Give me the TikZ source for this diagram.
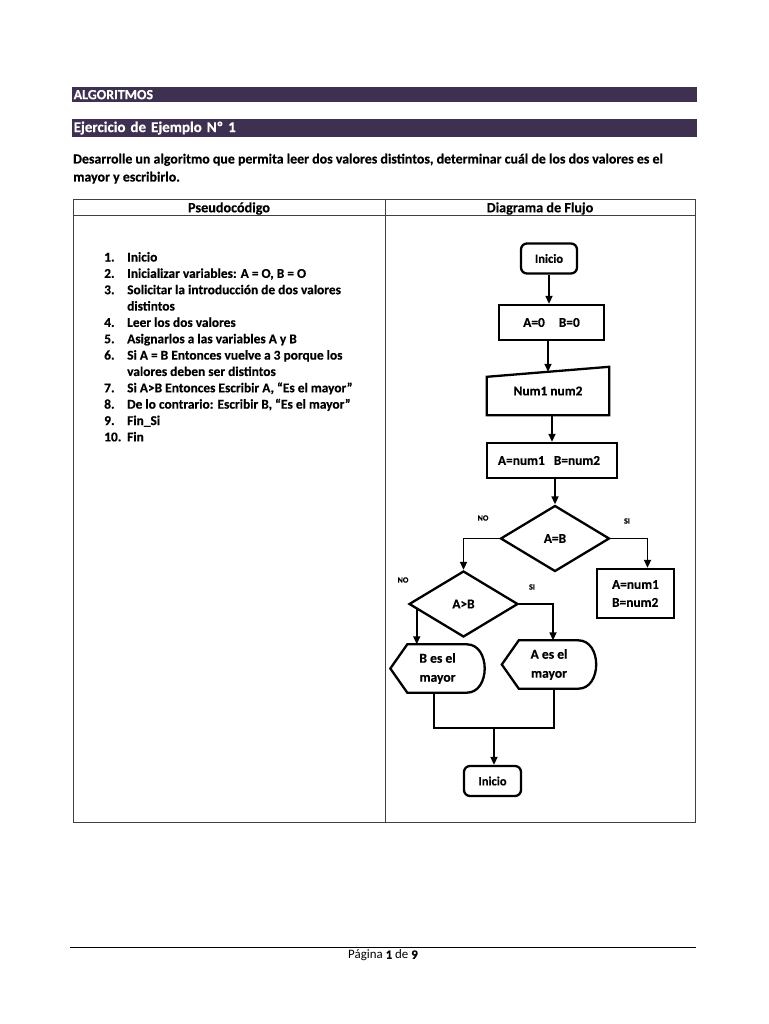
\documentclass[tikz,border=0pt]{standalone}
\usepackage{fontspec}
\setmainfont{Carlito}[BoldFeatures={FakeBold=0.35}]
\usetikzlibrary{arrows.meta,calc,shapes.geometric}
\definecolor{barc}{HTML}{3D3050}
\definecolor{tblc}{HTML}{404040}
\begin{document}
\begin{tikzpicture}[x=1pt,y=-1pt,
  every node/.style={inner sep=0pt,font=\bfseries},
  barnode/.style={fill=barc,text=white,anchor=north west,inner xsep=2pt,minimum height=#1,text width=621pt,align=left},
  para/.style={anchor=base west,font=\fontsize{13.9}{16}\selectfont\bfseries},
  hdr/.style={font=\fontsize{14.2}{16}\selectfont\bfseries},
  num/.style={anchor=base west,font=\fontsize{13.4}{15}\selectfont\bfseries},
  item/.style={anchor=base west,font=\fontsize{13.4}{15}\selectfont\bfseries},
  fc/.style={line width=2.3pt},
  term/.style={fc,draw,rounded corners=6pt,minimum width=56pt,minimum height=30pt,font=\fontsize{12.5}{14}\selectfont\bfseries},
  proc/.style={fc,draw,font=\fontsize{13.4}{15}\selectfont\bfseries},
  dec/.style={fc,draw,diamond,minimum width=109pt,minimum height=66pt,font=\fontsize{13.4}{15}\selectfont\bfseries},
  ghost/.style={draw=none,font=\fontsize{13.4}{15}\selectfont\bfseries},
  lbl/.style={font=\fontsize{8}{9}\selectfont\bfseries},
  arr/.style={line width=1.6pt,-{Triangle[length=8pt,width=7pt]}},
  lin/.style={line width=1.8pt}
]
\useasboundingbox (0,0) rectangle (768,1024);
\fill[white] (0,0) rectangle (768,1024);

% header bars
\node[barnode=15.5pt,font=\fontsize{14}{15}\selectfont\bfseries] (bar1) at (71.5,86.7) {ALGORITMOS};
\node[barnode=17.7pt,font=\fontsize{15}{17}\selectfont\bfseries] (bar2) at (71.5,119) {Ejercicio de Ejemplo Nº 1};

% paragraph
\node[para] (p1l) at (73,163.5) {Desarrolle un algoritmo que permita leer dos valores distintos, determinar cuál de los dos valores es el};
\node[para] (p2l) at (73,181.5) {mayor y escribirlo.};

% table
\draw[tblc,line width=1pt] (73,200) rectangle (695,822);
\draw[tblc,line width=1pt] (73,216) -- (695,216);
\draw[tblc,line width=1pt] (385,200) -- (385,822);
\node[hdr] (h1) at (229,208.5) {Pseudocódigo};
\node[hdr] (h2) at (540,208.5) {Diagrama de Flujo};

% pseudocode list
\foreach \n/\t/\l in {1./Inicio/0,
  2./{Inicializar variables: A = O, B = O}/1,
  3./{Solicitar la introducción de dos valores}/2,
  /distintos/3,
  4./Leer los dos valores/4,
  5./Asignarlos a las variables A y B/5,
  6./Si A = B Entonces vuelve a 3 porque los/6,
  /valores deben ser distintos/7,
  7./{Si A>B Entonces Escribir A, “Es el mayor”}/8,
  8./{De lo contrario: Escribir B, “Es el mayor”}/9,
  9./Fin\_Si/10,
  10./Fin/11}{
  \node[num] (n\l) at (104,{261.5+16.35*\l}) {\n};
  \node[item] (i\l) at (127,{261.5+16.35*\l}) {\t};
}

% flowchart
\node[term] (t1) at (549,258.5) {Inicio};
\node[proc,minimum width=105pt,minimum height=35pt] (b1) at (551.5,322.5) {A=0\hspace{14pt}B=0};
\node[ghost,minimum width=122pt,minimum height=48pt] (io) at (548,391) {Num1 num2};
\draw[fc] (io.south west) -- ($(io.north west)+(0,10)$) -- (io.north east) -- (io.south east) -- cycle;
\node[proc,minimum width=130pt,minimum height=35pt] (b2) at (552,460.5) {\hspace{-6pt}A=num1\hspace{9pt}B=num2};
\node[dec] (d1) at (555,538.5) {A=B};
\node[proc,minimum width=77pt,minimum height=49pt,align=left,font=\fontsize{13.4}{18}\selectfont\bfseries] (b3) at (635.5,593.5) {A=num1\\B=num2};
\node[dec] (d2) at (463.5,604) {A>B};
\node[ghost,minimum width=94pt,minimum height=48pt,align=center,font=\fontsize{13.6}{19}\selectfont\bfseries] (dB) at (437.5,668.5) {B es el\\mayor};
\node[ghost,minimum width=94pt,minimum height=48pt,align=center,font=\fontsize{13.6}{19}\selectfont\bfseries] (dA) at (549,664.5) {A es el\\mayor};
\foreach \s in {dB,dA}{
  \draw[fc] (\s.west) -- ($(\s.north west)+(17,0)$) -- ($(\s.north east)+(-18,0)$)
    .. controls ($(\s.north east)+(6,0)$) and ($(\s.south east)+(6,0)$) .. ($(\s.south east)+(-18,0)$)
    -- ($(\s.south west)+(17,0)$) -- cycle;
}
\node[term,minimum width=57pt] (t2) at (492.5,781) {Inicio};

% labels
\node[lbl] (no1) at (483,518) {NO};
\node[lbl] (si1) at (627,521) {SI};
\node[lbl] (no2) at (403,580) {NO};
\node[lbl] (si2) at (532,587) {SI};

% connectors
\draw[arr] (t1.south) -- (t1.south |- b1.north);
\coordinate (iotop) at ($(io.north)+(0,5)$);
\draw[arr] (b1.south -| iotop) -- (iotop);
\draw[arr] (io.south -| b2.north) -- (b2.north);
\draw[arr] (b2.south -| d1.north) -- (d1.north);
\coordinate (p3in) at ($(b3.north)+(12,0)$);
\draw[arr] (d1.east) -| (p3in);
\draw[arr] (d1.west) -| (d2.north);
\coordinate (dAin) at ($(dA.north)+(4,0)$);
\draw[arr] (d2.east) -| (dAin);
\coordinate (d2l) at ($(d2.west)!0.16!(d2.south)$);
\draw[arr] (d2l) -- (d2l |- dB.north);
\coordinate (mB) at (434,728);
\coordinate (mA) at (554,728);
\coordinate (mC) at (494,728);
\draw[lin] (dB.south -| mB) -- (mB) -- (mA) -- (dA.south -| mA);
\draw[arr] (mC) -- (mC |- t2.north);

% footer
\draw[black,line width=1pt] (70,947) -- (696,947);
\node[font=\fontsize{12.9}{14}\selectfont] (foot) at (383,955.5) {Página \textbf{1} de \textbf{9}};
\end{tikzpicture}
\end{document}
